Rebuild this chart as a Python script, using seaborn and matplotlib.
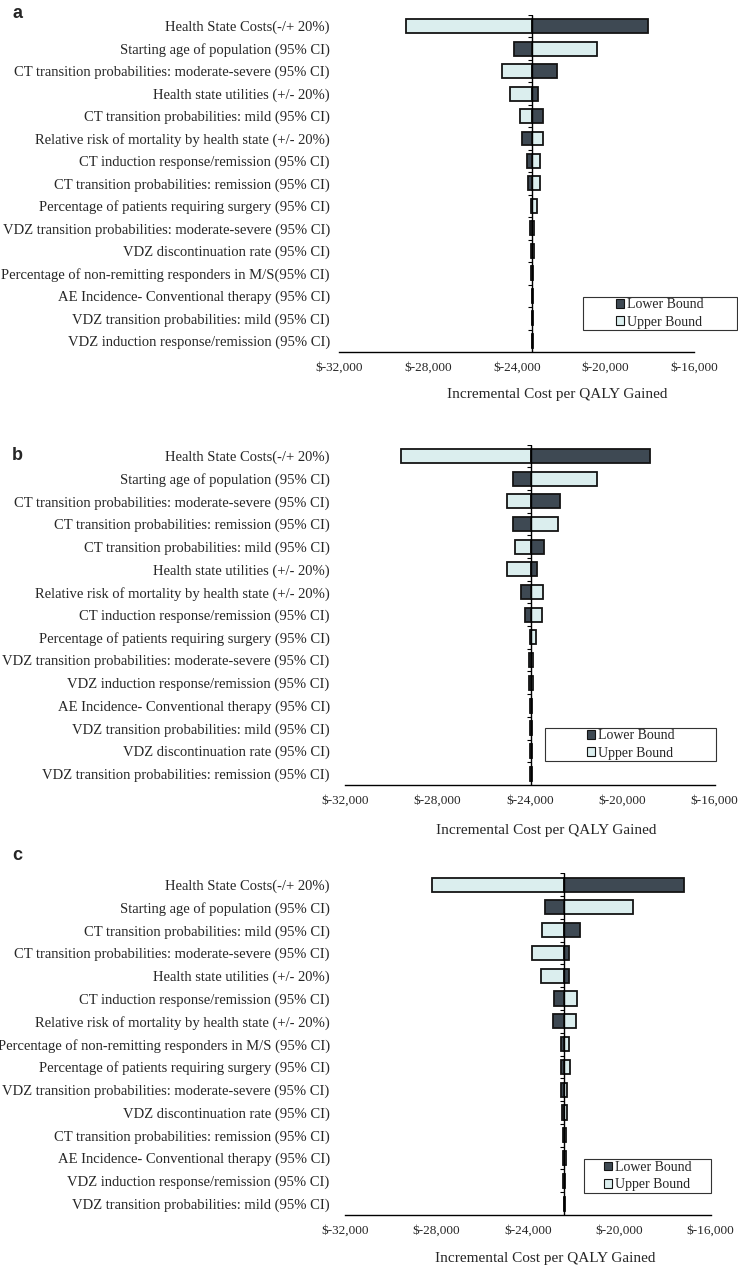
import matplotlib
matplotlib.use("Agg")
import matplotlib.pyplot as plt
from matplotlib.patches import Patch, Rectangle
import numpy as np
import pandas as pd
import seaborn as sns

sns.set_style("white")
plt.rcParams["font.family"] = ["Liberation Serif", "DejaVu Serif"]

LOWER_COLOR = "#3e4953"
UPPER_COLOR = "#dbeeee"
EDGE = "#141414"

# panel a
labels_a = ["Health State Costs(-/+ 20%)",
            "Starting age of population (95% CI)",
            "CT transition probabilities: moderate-severe (95% CI)",
            "Health state utilities (+/- 20%)",
            "CT transition probabilities: mild (95% CI)",
            "Relative risk of mortality by health state (+/- 20%)",
            "CT induction response/remission (95% CI)",
            "CT transition probabilities: remission (95% CI)",
            "Percentage of patients requiring surgery (95% CI)",
            "VDZ transition probabilities: moderate-severe (95% CI)",
            "VDZ discontinuation rate (95% CI)",
            "Percentage of non-remitting responders in M/S(95% CI)",
            "AE Incidence- Conventional therapy (95% CI)",
            "VDZ transition probabilities: mild (95% CI)",
            "VDZ induction response/remission (95% CI)"]
base_a = -23300
lower_a = [-18110, -24110, -22210, -23070, -22830, -23780, -23550, -23520,
           -23380, -23420, -23360, -23345, -23340, -23335, -23330]
upper_a = [-28990, -20380, -24650, -24330, -23850, -22810, -22950, -22950,
           -23090, -23240, -23250, -23260, -23260, -23265, -23270]

# panel b
labels_b = ["Health State Costs(-/+ 20%)",
            "Starting age of population (95% CI)",
            "CT transition probabilities: moderate-severe (95% CI)",
            "CT transition probabilities: remission (95% CI)",
            "CT transition probabilities: mild (95% CI)",
            "Health state utilities (+/- 20%)",
            "Relative risk of mortality by health state (+/- 20%)",
            "CT induction response/remission (95% CI)",
            "Percentage of patients requiring surgery (95% CI)",
            "VDZ transition probabilities: moderate-severe (95% CI)",
            "VDZ induction response/remission (95% CI)",
            "AE Incidence- Conventional therapy (95% CI)",
            "VDZ transition probabilities: mild (95% CI)",
            "VDZ discontinuation rate (95% CI)",
            "VDZ transition probabilities: remission (95% CI)"]
base_b = -23930
lower_b = [-18800, -24740, -22690, -24720, -23380, -23710, -24390, -24230,
           -24000, -24050, -24040, -24000, -24000, -23995, -23980]
upper_b = [-29580, -21080, -25010, -22770, -24660, -24980, -23450, -23480,
           -23750, -23870, -23870, -23890, -23890, -23895, -23900]

# panel c
labels_c = ["Health State Costs(-/+ 20%)",
            "Starting age of population (95% CI)",
            "CT transition probabilities: mild (95% CI)",
            "CT transition probabilities: moderate-severe (95% CI)",
            "Health state utilities (+/- 20%)",
            "CT induction response/remission (95% CI)",
            "Relative risk of mortality by health state (+/- 20%)",
            "Percentage of non-remitting responders in M/S (95% CI)",
            "Percentage of patients requiring surgery (95% CI)",
            "VDZ transition probabilities: moderate-severe (95% CI)",
            "VDZ discontinuation rate (95% CI)",
            "CT transition probabilities: remission (95% CI)",
            "AE Incidence- Conventional therapy (95% CI)",
            "VDZ induction response/remission (95% CI)",
            "VDZ transition probabilities: mild (95% CI)"]
base_c = -22410
lower_c = [-17170, -23240, -21720, -22190, -22190, -22840, -22910, -22570,
           -22530, -22555, -22520, -22480, -22470, -22450, -22440]
upper_c = [-28180, -19420, -23360, -23800, -23430, -21850, -21900, -22190,
           -22150, -22280, -22300, -22330, -22350, -22360, -22380]

x_ticks = [-32000, -28000, -24000, -20000, -16000]


def tornado(ax, labels, lower, upper, base, pad, label_xy):
    """bars are drawn as offsets from the base case ICER"""
    df = pd.DataFrame({"param": labels,
                       "low": np.array(lower) - base,
                       "high": np.array(upper) - base})
    sns.barplot(data=df, x="high", y="param", orient="y", color=UPPER_COLOR,
                saturation=1, edgecolor=EDGE, linewidth=1.3, width=0.62,
                errorbar=None, ax=ax)
    sns.barplot(data=df, x="low", y="param", orient="y", color=LOWER_COLOR,
                saturation=1, edgecolor=EDGE, linewidth=1.3, width=0.62,
                errorbar=None, ax=ax)

    # base case line with small ticks between rows
    ax.axvline(0, color="black", lw=1, zorder=4)
    ax.plot(np.zeros(len(labels)), np.arange(len(labels)) - 0.5,
            marker=0, ms=3, mew=0.8, ls="none", color="black", zorder=4)

    ax.set_xlim(x_ticks[0] - base, x_ticks[-1] - base)
    ax.set_ylim(len(labels) - 0.5, -0.5)
    ax.set_xticks(np.array(x_ticks) - base)
    ax.set_xticklabels([f"${t:,}" for t in x_ticks])

    for side in ["top", "right", "left"]:
        ax.spines[side].set_visible(False)
    ax.spines["bottom"].set_color("black")
    ax.spines["bottom"].set_linewidth(1)

    ax.tick_params(axis="y", length=0, pad=pad, labelsize=10.5)
    ax.tick_params(axis="x", direction="inout", length=6, width=1,
                   labelsize=9.5, pad=4, color="black")
    ax.set_ylabel("")
    ax.set_xlabel("Incremental Cost per QALY Gained", fontsize=11)
    ax.xaxis.set_label_coords(*label_xy)


def legend_box(fig, x0, y0, w, h):
    fig.add_artist(Rectangle((x0, y0), w, h, transform=fig.transFigure,
                             fill=False, edgecolor="#333333", lw=0.8))
    handles = [Patch(facecolor=LOWER_COLOR, edgecolor=EDGE, lw=0.8,
                     label="Lower Bound"),
               Patch(facecolor=UPPER_COLOR, edgecolor=EDGE, lw=0.8,
                     label="Upper Bound")]
    fig.legend(handles=handles, loc="center",
               bbox_to_anchor=(x0 + w / 2, y0 + h / 2), frameon=False,
               fontsize=10, handlelength=0.6, handleheight=0.6,
               handletextpad=0.2, labelspacing=0.3, borderpad=0)


fig = plt.figure(figsize=(7.38, 12.70), dpi=100)
ax_a = fig.add_axes([0.460, 0.7228, 0.4808, 0.2655])
ax_b = fig.add_axes([0.4675, 0.3819, 0.5009, 0.2681])
ax_c = fig.add_axes([0.4675, 0.0433, 0.4955, 0.2691])

tornado(ax_a, labels_a, lower_a, upper_a, base_a, 7, (0.613, -0.107))
tornado(ax_b, labels_b, lower_b, upper_b, base_b, 11, (0.544, -0.115))
tornado(ax_c, labels_c, lower_c, upper_c, base_c, 11, (0.547, -0.108))

legend_box(fig, 0.790, 0.7402, 0.2087, 0.026)
legend_box(fig, 0.7385, 0.4008, 0.2317, 0.026)
legend_box(fig, 0.7913, 0.0606, 0.1721, 0.0268)

for letter, y in [("a", 1 - 13 / 1270), ("b", 1 - 455 / 1270),
                  ("c", 1 - 855 / 1270)]:
    fig.text(12 / 738, y, letter, fontsize=13, fontweight="bold",
             family=["Liberation Sans", "DejaVu Sans"], va="center")

fig.savefig("out.png", dpi=100)
